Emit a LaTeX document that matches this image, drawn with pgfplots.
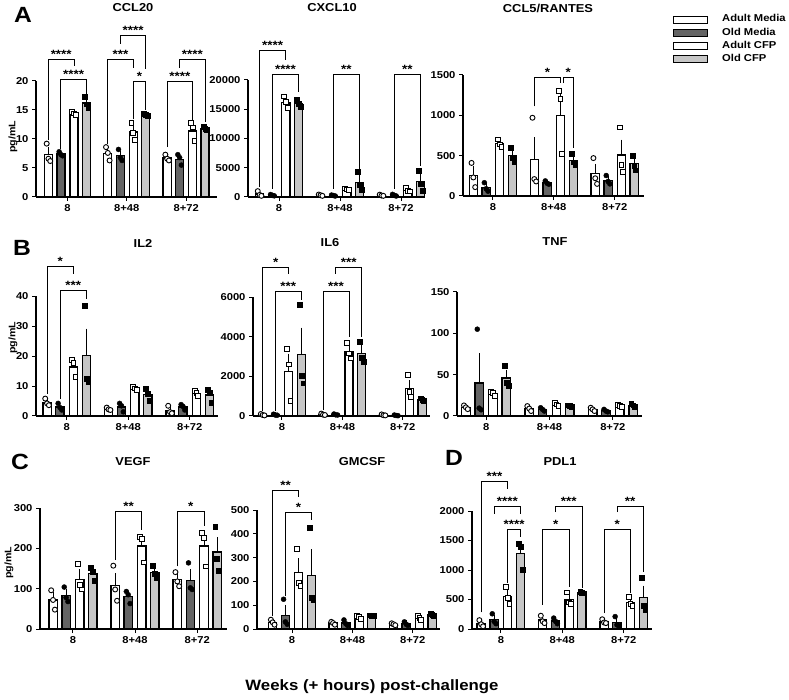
\documentclass[border=0pt]{standalone}
\usepackage{fontspec}
\setmainfont{Liberation Sans}[FakeStretch=1.12]
\usepackage{pgfplots}
\pgfplotsset{compat=1.18}

\definecolor{omg}{RGB}{100,100,100}
\definecolor{ocg}{RGB}{198,198,198}

\newcommand{\astfont}{\bfseries\fontsize{12}{12}\selectfont}
\newcommand{\brk}[6]{\draw[line width=0.9pt] (axis cs:#1,#4) -- (axis cs:#1,#3) -- node[midway, anchor=base, inner sep=0pt, yshift=1pt, font=\astfont] {#6} (axis cs:#2,#3) -- (axis cs:#2,#5);}

\pgfplotsset{
  panel/.style={
    scale only axis, clip=false,
    axis x line*=bottom, axis y line*=left,
    axis line style={line width=1.1pt, -},
    tick style={line width=1pt, black},
    tick align=outside, major tick length=4pt,
    xtick={0,1,2}, xticklabels={8,8+48,8+72},
    ymin=0,
    tick label style={font=\bfseries\fontsize{10}{12}\selectfont, black},
    /pgf/number format/assume math mode=true,
    /pgf/number format/fixed, /pgf/number format/1000 sep={},
    scaled y ticks=false,
  },
  bAM/.style={ybar, bar width=0.135, bar shift=0pt, draw=black, fill=white, line width=1.3pt,
    /pgfplots/error bars/y dir=plus, /pgfplots/error bars/y explicit,
    /pgfplots/error bars/error bar style={line width=1pt, black},
    /pgfplots/error bars/error mark options={line width=1pt, black, mark size=2.2pt}},
  bOM/.style={bAM, fill=omg},
  bAC/.style={bAM},
  bOC/.style={bAM, fill=ocg},
  pAM/.style={only marks, mark=*, mark size=2.5pt, mark options={draw=black, fill=white, line width=0.9pt, solid}},
  pOM/.style={only marks, mark=*, mark size=2.5pt, mark options={draw=black, fill=black, solid}},
  pAC/.style={only marks, mark=square*, mark size=2.4pt, mark options={draw=black, fill=white, line width=0.9pt, solid}},
  pOC/.style={only marks, mark=square*, mark size=2.4pt, mark options={draw=black, fill=black, solid}},
}

\begin{document}
\begin{tikzpicture}
\useasboundingbox (0pt,0pt) rectangle (789pt,699pt);

% ---------------- CCL20
\begin{axis}[panel, at={(36pt,502pt)}, anchor=south west, width=181pt, height=116pt,
  xmin=-0.53, xmax=2.52, ymax=20, ytick={0,5,10,15,20}]
\addplot[bAM] coordinates {(-0.32,7.3) +- (0,1.0) (0.68,7.5) +- (0,0.7) (1.68,6.7) +- (0,0.3)};
\addplot[bOM] coordinates {(-0.11,7.4) +- (0,0.2) (0.89,7.1) +- (0,0.5) (1.89,6.5) +- (0,0.6)};
\addplot[bAC] coordinates {(0.11,14.4) +- (0,0.2) (1.11,11.2) +- (0,0.9) (2.11,11.4) +- (0,1.0)};
\addplot[bOC] coordinates {(0.32,16.2) +- (0,0.6) (1.32,14.2) +- (0,0.15) (2.32,11.8) +- (0,0.2)};
\addplot[pAM] coordinates {(-0.35,9.2) (-0.32,6.6) (-0.29,6.2) (0.65,8.6) (0.68,7.6) (0.71,6.3) (1.65,7.3) (1.68,6.6) (1.71,6.3)};
\addplot[pOM] coordinates {(-0.14,7.8) (-0.11,7.3) (-0.08,7.1) (0.86,8.2) (0.89,6.8) (0.92,6.3) (1.86,7.3) (1.89,6.8) (1.92,5.5)};
\addplot[pAC] coordinates {(0.08,14.7) (0.11,14.4) (0.14,14.1) (1.08,12.8) (1.11,11.0) (1.14,9.9) (2.08,12.7) (2.11,12.0) (2.14,9.6)};
\addplot[pOC] coordinates {(0.29,17.3) (0.32,16.0) (0.35,15.4) (1.29,14.4) (1.32,14.2) (1.35,14.0) (2.29,12.1) (2.32,11.8) (2.35,11.6)};
\brk{-0.32}{0.11}{23.7}{9.8}{22.5}{****}
\brk{-0.11}{0.32}{20.2}{8.3}{17.6}{****}
\brk{0.68}{1.11}{23.7}{9.2}{22.3}{***}
\brk{0.89}{1.32}{27.8}{26.4}{22.0}{****}
\brk{1.11}{1.32}{19.9}{13.4}{15.0}{*}
\brk{1.68}{2.11}{19.9}{8.6}{13.3}{****}
\brk{1.89}{2.32}{23.7}{22.3}{13.0}{****}
\end{axis}

% ---------------- CXCL10
\begin{axis}[panel, at={(248pt,502pt)}, anchor=south west, width=175pt, height=117pt,
  xmin=-0.51, xmax=2.36, ymax=20000, ytick={0,5000,10000,15000,20000}]
\addplot[bAM] coordinates {(-0.32,520) +- (0,240) (0.68,300) +- (0,60) (1.68,280) +- (0,60)};
\addplot[bOM] coordinates {(-0.11,300) +- (0,60) (0.89,250) +- (0,45) (1.89,300) +- (0,80)};
\addplot[bAC] coordinates {(0.11,16200) +- (0,580) (1.11,1300) +- (0,90) (2.11,1200) +- (0,200)};
\addplot[bOC] coordinates {(0.32,16000) +- (0,350) (1.32,2500) +- (0,900) (2.32,2600) +- (0,1000)};
\addplot[pAM] coordinates {(-0.35,1000) (-0.32,350) (-0.29,200) (0.65,420) (0.68,300) (0.71,200) (1.65,400) (1.68,250) (1.71,200)};
\addplot[pOM] coordinates {(-0.14,420) (-0.11,280) (-0.08,200) (0.86,330) (0.89,250) (0.92,170) (1.86,450) (1.89,280) (1.92,170)};
\addplot[pAC] coordinates {(0.08,17200) (0.11,16300) (0.14,15200) (1.08,1450) (1.11,1300) (1.14,1150) (2.08,1600) (2.11,1050) (2.14,950)};
\addplot[pOC] coordinates {(0.29,16600) (0.32,16000) (0.35,15400) (1.29,4300) (1.32,2000) (1.35,1200) (2.29,4500) (2.32,2200) (2.35,1100)};
\brk{-0.32}{0.11}{25000}{1700}{23500}{****}
\brk{-0.11}{0.32}{21000}{1400}{18000}{****}
\brk{0.89}{1.32}{21000}{1400}{4800}{**}
\brk{1.89}{2.32}{21000}{1400}{5300}{**}
\end{axis}

% ---------------- CCL5/RANTES
\begin{axis}[panel, at={(463pt,503pt)}, anchor=south west, width=181pt, height=121pt,
  xmin=-0.49, xmax=2.48, ymax=1500, ytick={0,500,1000,1500}]
\addplot[bAM] coordinates {(-0.32,250) +- (0,90) (0.68,450) +- (0,250) (1.68,280) +- (0,90)};
\addplot[bOM] coordinates {(-0.11,105) +- (0,30) (0.89,164) +- (0,12) (1.89,195) +- (0,30)};
\addplot[bAC] coordinates {(0.11,650) +- (0,25) (1.11,1000) +- (0,240) (2.11,510) +- (0,160)};
\addplot[bOC] coordinates {(0.32,500) +- (0,50) (1.32,440) +- (0,35) (2.32,400) +- (0,50)};
\addplot[pAM] coordinates {(-0.35,410) (-0.32,230) (-0.29,110) (0.65,970) (0.68,210) (0.71,180) (1.65,470) (1.68,220) (1.71,150)};
\addplot[pOM] coordinates {(-0.14,165) (-0.11,90) (-0.08,60) (0.86,187) (0.89,158) (0.92,146) (1.86,254) (1.89,180) (1.92,150)};
\addplot[pAC] coordinates {(0.08,700) (0.11,640) (0.14,610) (1.08,1300) (1.11,1200) (1.14,520) (2.08,850) (2.11,380) (2.14,300)};
\addplot[pOC] coordinates {(0.29,600) (0.32,470) (0.35,430) (1.29,520) (1.32,420) (1.35,390) (2.29,500) (2.32,380) (2.35,320)};
\brk{0.68}{1.11}{1470}{1110}{1400}{*}
\brk{1.15}{1.32}{1470}{1400}{600}{*}
\end{axis}

% ---------------- IL2
\begin{axis}[panel, at={(36pt,283pt)}, anchor=south west, width=182pt, height=120pt,
  xmin=-0.50, xmax=2.46, ymax=40, ytick={0,10,20,30,40}]
\addplot[bAM] coordinates {(-0.32,4.5) +- (0,0.6) (0.68,2.3) +- (0,0.3) (1.68,1.9) +- (0,0.8)};
\addplot[bOM] coordinates {(-0.11,3.0) +- (0,0.6) (0.89,3.0) +- (0,0.8) (1.89,3.0) +- (0,0.5)};
\addplot[bAC] coordinates {(0.11,16.3) +- (0,1.6) (1.11,9.2) +- (0,0.3) (2.11,7.5) +- (0,0.5)};
\addplot[bOC] coordinates {(0.32,20.2) +- (0,8.2) (1.32,7.2) +- (0,1.1) (2.32,7.0) +- (0,1.3)};
\addplot[pAM] coordinates {(-0.35,5.8) (-0.32,4.2) (-0.29,3.6) (0.65,2.8) (0.68,2.2) (0.71,2.0) (1.65,3.4) (1.68,1.3) (1.71,0.9)};
\addplot[pOM] coordinates {(-0.14,4.2) (-0.11,2.8) (-0.08,2.0) (0.86,4.2) (0.89,3.4) (0.92,1.4) (1.86,3.8) (1.89,3.2) (1.92,2.0)};
\addplot[pAC] coordinates {(0.08,18.6) (0.11,17.6) (0.14,12.9) (1.08,9.7) (1.11,9.2) (1.14,8.8) (2.08,8.4) (2.11,7.6) (2.14,6.6)};
\addplot[pOC] coordinates {(0.29,36.7) (0.32,12.4) (0.35,11.5) (1.29,9.0) (1.32,7.4) (1.35,5.2) (2.29,8.8) (2.32,7.8) (2.35,4.5)};
\brk{-0.32}{0.11}{49.7}{7.4}{47.4}{*}
\brk{-0.11}{0.32}{41.7}{5.8}{39.0}{***}
\end{axis}

% ---------------- IL6
\begin{axis}[panel, at={(253pt,283pt)}, anchor=south west, width=177pt, height=119pt,
  xmin=-0.48, xmax=2.45, ymax=6000, ytick={0,2000,4000,6000}]
\addplot[bAM] coordinates {(-0.32,60) +- (0,20) (0.68,80) +- (0,20) (1.68,50) +- (0,15)};
\addplot[bOM] coordinates {(-0.11,60) +- (0,15) (0.89,70) +- (0,15) (1.89,30) +- (0,10)};
\addplot[bAC] coordinates {(0.11,2250) +- (0,780) (1.11,3250) +- (0,230) (2.11,1400) +- (0,300)};
\addplot[bOC] coordinates {(0.32,3100) +- (0,1250) (1.32,3150) +- (0,300) (2.32,840) +- (0,30)};
\addplot[pAM] coordinates {(-0.35,100) (-0.32,50) (-0.29,30) (0.65,120) (0.68,70) (0.71,50) (1.65,80) (1.68,40) (1.71,30)};
\addplot[pOM] coordinates {(-0.14,90) (-0.11,50) (-0.08,40) (0.86,100) (0.89,60) (0.92,50) (1.86,50) (1.89,25) (1.92,15)};
\addplot[pAC] coordinates {(0.08,3400) (0.11,2600) (0.14,750) (1.08,3700) (1.11,3150) (1.14,2900) (2.08,2050) (2.11,1200) (2.14,950)};
\addplot[pOC] coordinates {(0.29,5600) (0.32,2050) (0.35,1650) (1.29,3750) (1.32,2950) (1.35,2750) (2.29,900) (2.32,840) (2.35,790)};
\brk{-0.32}{0.11}{7500}{250}{7180}{*}
\brk{-0.11}{0.32}{6300}{250}{5850}{***}
\brk{0.68}{1.11}{6300}{300}{4000}{***}
\brk{0.89}{1.32}{7500}{7180}{4000}{***}
\end{axis}

% ---------------- TNF
\begin{axis}[panel, at={(457pt,283pt)}, anchor=south west, width=185pt, height=124pt,
  xmin=-0.46, xmax=2.46, ymax=150, ytick={0,50,100,150}]
\addplot[bAM] coordinates {(-0.32,10.5) +- (0,1.2) (0.68,9) +- (0,1.7) (1.68,8) +- (0,1.2)};
\addplot[bOM] coordinates {(-0.11,40) +- (0,33) (0.89,8) +- (0,1.2) (1.89,6.3) +- (0,0.9)};
\addplot[bAC] coordinates {(0.11,27) +- (0,1.4) (1.11,14) +- (0,0.9) (2.11,12) +- (0,0.6)};
\addplot[bOC] coordinates {(0.32,46) +- (0,7.5) (1.32,12) +- (0,0.6) (2.32,13) +- (0,0.9)};
\addplot[pAM] coordinates {(-0.35,12.8) (-0.32,10.5) (-0.29,8.3) (0.65,12) (0.68,9) (0.71,6) (1.65,10) (1.68,8) (1.71,6)};
\addplot[pOM] coordinates {(-0.14,105) (-0.11,9.5) (-0.08,7.5) (0.86,10) (0.89,8) (0.92,6) (1.86,8) (1.89,6) (1.92,5)};
\addplot[pAC] coordinates {(0.08,29) (0.11,27.8) (0.14,24.2) (1.08,15.5) (1.11,14) (1.14,12.5) (2.08,13) (2.11,12) (2.14,11)};
\addplot[pOC] coordinates {(0.29,61) (0.32,40) (0.35,37) (1.29,13) (1.32,12) (1.35,11) (2.29,14.5) (2.32,13) (2.35,11.5)};
\end{axis}

% ---------------- VEGF
\begin{axis}[panel, at={(40pt,70pt)}, anchor=south west, width=187pt, height=121pt,
  xmin=-0.53, xmax=2.48, ymax=300, ytick={0,100,200,300}]
\addplot[bAM] coordinates {(-0.32,72) +- (0,14) (0.68,108) +- (0,25) (1.68,122) +- (0,10)};
\addplot[bOM] coordinates {(-0.11,83) +- (0,11) (0.89,80) +- (0,9) (1.89,121) +- (0,22)};
\addplot[bAC] coordinates {(0.11,123) +- (0,20) (1.11,206) +- (0,21) (2.11,206) +- (0,25)};
\addplot[bOC] coordinates {(0.32,138) +- (0,10) (1.32,140) +- (0,9) (2.32,191) +- (0,31)};
\addplot[pAM] coordinates {(-0.35,96) (-0.32,72) (-0.29,48) (0.65,157) (0.68,98) (0.71,70) (1.65,141) (1.68,118) (1.71,106)};
\addplot[pOM] coordinates {(-0.14,104) (-0.11,78) (-0.08,68) (0.86,93) (0.89,85) (0.92,63) (1.86,164) (1.89,102) (1.92,98)};
\addplot[pAC] coordinates {(0.08,162) (0.11,110) (0.14,98) (1.08,229) (1.11,224) (1.14,165) (2.08,238) (2.11,225) (2.14,155)};
\addplot[pOC] coordinates {(0.29,152) (0.32,142) (0.35,120) (1.29,157) (1.32,138) (1.35,126) (2.29,253) (2.32,175) (2.35,145)};
\brk{0.68}{1.11}{292}{172}{246}{**}
\brk{1.68}{2.11}{292}{155}{256}{*}
\end{axis}

% ---------------- GMCSF
\begin{axis}[panel, at={(257pt,70pt)}, anchor=south west, width=183pt, height=119pt,
  xmin=-0.58, xmax=2.45, ymax=500, ytick={0,100,200,300,400,500}]
\addplot[bAM] coordinates {(-0.32,28) +- (0,6) (0.68,25) +- (0,4) (1.68,20) +- (0,3)};
\addplot[bOM] coordinates {(-0.11,58) +- (0,34) (0.89,25) +- (0,7) (1.89,22) +- (0,5)};
\addplot[bAC] coordinates {(0.11,237) +- (0,50) (1.11,50) +- (0,4) (2.11,46) +- (0,5)};
\addplot[bOC] coordinates {(0.32,226) +- (0,100) (1.32,57) +- (0,1) (2.32,60) +- (0,2)};
\addplot[pAM] coordinates {(-0.35,39) (-0.32,28) (-0.29,18) (0.65,30) (0.68,25) (0.71,18) (1.65,24) (1.68,20) (1.71,16)};
\addplot[pOM] coordinates {(-0.14,125) (-0.11,30) (-0.08,20) (0.86,38) (0.89,22) (0.92,15) (1.86,30) (1.89,20) (1.92,15)};
\addplot[pAC] coordinates {(0.08,338) (0.11,192) (0.14,182) (1.08,56) (1.11,50) (1.14,43) (2.08,55) (2.11,45) (2.14,38)};
\addplot[pOC] coordinates {(0.29,426) (0.32,130) (0.35,123) (1.29,58) (1.32,57) (1.35,55) (2.29,63) (2.32,59) (2.35,57)};
\brk{-0.32}{0.11}{584}{53}{556}{**}
\brk{-0.11}{0.32}{489}{137}{458}{*}
\end{axis}

% ---------------- PDL1
\begin{axis}[panel, at={(472pt,70pt)}, anchor=south west, width=180pt, height=118pt,
  xmin=-0.47, xmax=2.46, ymax=2000, ytick={0,500,1000,1500,2000}]
\addplot[bAM] coordinates {(-0.32,90) +- (0,33) (0.68,152) +- (0,37) (1.68,125) +- (0,20)};
\addplot[bOM] coordinates {(-0.11,159) +- (0,49) (0.89,135) +- (0,28) (1.89,110) +- (0,50)};
\addplot[bAC] coordinates {(0.11,550) +- (0,85) (1.11,500) +- (0,60) (2.11,450) +- (0,50)};
\addplot[bOC] coordinates {(0.32,1280) +- (0,125) (1.32,620) +- (0,8) (2.32,530) +- (0,170)};
\addplot[pAM] coordinates {(-0.35,150) (-0.32,80) (-0.29,45) (0.65,225) (0.68,130) (0.71,100) (1.65,165) (1.68,110) (1.71,100)};
\addplot[pOM] coordinates {(-0.14,258) (-0.11,129) (-0.08,90) (0.86,185) (0.89,129) (0.92,90) (1.86,210) (1.89,70) (1.92,55)};
\addplot[pAC] coordinates {(0.08,710) (0.11,520) (0.14,420) (1.08,620) (1.11,450) (1.14,430) (2.08,550) (2.11,420) (2.14,390)};
\addplot[pOC] coordinates {(0.29,1450) (0.32,1390) (0.35,1000) (1.29,635) (1.32,618) (1.35,607) (2.29,870) (2.32,400) (2.35,320)};
\brk{-0.32}{0.11}{2506}{280}{2376}{***}
\brk{-0.11}{0.32}{2084}{1950}{1950}{****}
\brk{0.11}{0.32}{1685}{780}{1556}{****}
\brk{0.68}{1.11}{1685}{410}{719}{*}
\brk{0.89}{1.32}{2084}{1983}{691}{***}
\brk{1.68}{2.11}{1685}{270}{607}{*}
\brk{1.89}{2.32}{2084}{1983}{972}{**}
\end{axis}

\begin{scope}[x=1pt,y=1pt]
% ---------------- titles
\begin{scope}[every node/.style={font=\bfseries\fontsize{11.5}{13}\selectfont}]
\node at (133,691) {CCL20};
\node at (332,691) {CXCL10};
\node at (548,691) {CCL5/RANTES};
\node at (143,456) {IL2};
\node at (330,456) {IL6};
\node at (555,457) {TNF};
\node at (133,237) {VEGF};
\node at (362,237) {GMCSF};
\node at (560,237) {PDL1};
\end{scope}

% panel letters
\begin{scope}[every node/.style={font=\bfseries\fontsize{22}{24}\selectfont}]
\node at (23,684) {A};
\node at (22,451) {B};
\node at (20,237) {C};
\node at (454,241) {D};
\end{scope}

% y labels
\begin{scope}[every node/.style={font=\bfseries\fontsize{9.5}{11}\selectfont, rotate=90}]
\node at (13,562) {pg/mL};
\node at (13,361) {pg/mL};
\node at (9,136) {pg/mL};
\end{scope}

% x label
\node[font=\bfseries\fontsize{15}{17}\selectfont] at (372,12) {Weeks (+ hours) post-challenge};

% legend
\draw[line width=1pt, fill=white] (673,675.25) rectangle (707,682.75);
\draw[line width=1pt, fill=omg] (673,662.25) rectangle (707,669.75);
\draw[line width=1pt, fill=white] (673,649.25) rectangle (707,656.75);
\draw[line width=1pt, fill=ocg] (673,636.25) rectangle (707,643.75);
\begin{scope}[every node/.style={font=\bfseries\fontsize{10}{12}\selectfont, anchor=west, inner sep=0pt}]
\node at (722,681) {Adult Media};
\node at (722,667) {Old Media};
\node at (722,654) {Adult CFP};
\node at (722,641) {Old CFP};
\end{scope}
\end{scope}
\end{tikzpicture}
\end{document}
